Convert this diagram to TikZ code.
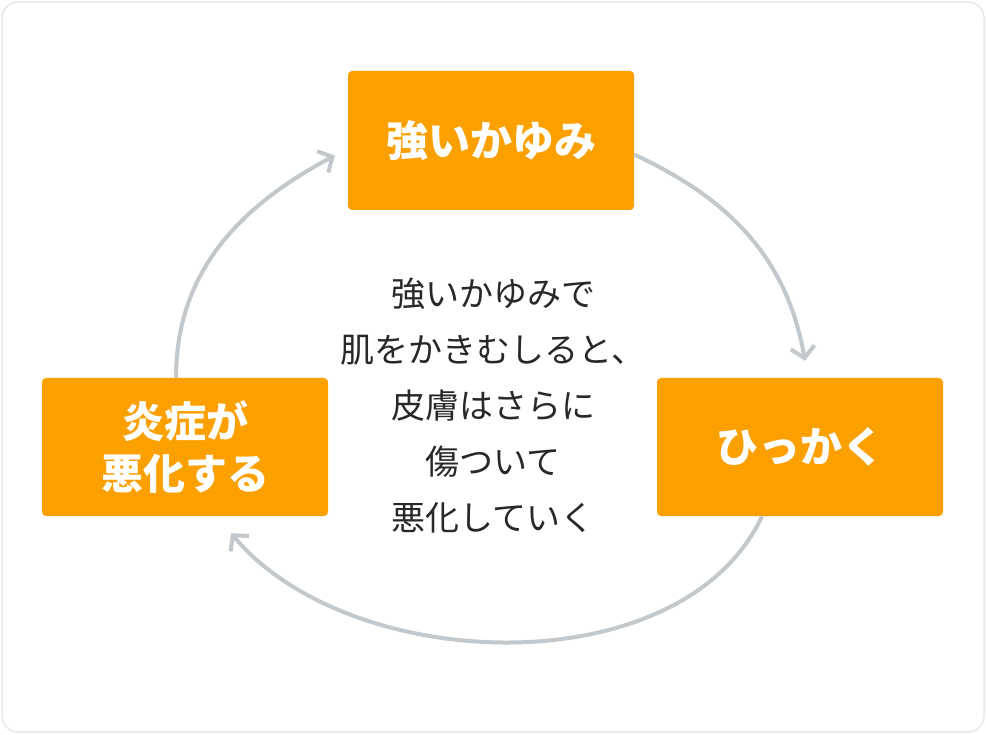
\documentclass[tikz,border=0pt]{standalone}
\usepackage{fontspec}
\newfontfamily\jp{Noto Sans CJK JP}
\usetikzlibrary{arrows.meta}
\definecolor{boxorange}{RGB}{252,160,0}
\definecolor{arcgray}{RGB}{195,200,205}
\definecolor{framegray}{RGB}{232,232,232}
\definecolor{textdark}{RGB}{40,40,40}
\tikzset{
  stagebox/.style={fill=boxorange, rounded corners=4pt, minimum width=286pt, minimum height=138pt,
    inner sep=0pt, text=white, font=\jp\bfseries\fontsize{42}{52}\selectfont, align=center},
  cyclearc/.style={draw=arcgray, line width=4pt,
    -{Straight Barb[length=11pt,width=24pt,line width=4pt]}},
}
\begin{document}
\begin{tikzpicture}[x=1pt,y=-1pt]
\useasboundingbox (0,0) rectangle (986,735);
\draw[framegray, line width=1.5pt, rounded corners=16pt, fill=white] (2,2) rectangle (984,732);

\node[stagebox, minimum height=139pt] (top) at (491,140.5) {強いかゆみ};
\node[stagebox] (right) at (800,447) {ひっかく};
\node[stagebox] (left) at (185,447) {炎症が\\悪化する};

\node[text=textdark, font=\jp\fontsize{34}{56}\selectfont, align=center, inner sep=0pt] (mid) at (493,405)
  {強いかゆみで\\肌をかきむしると、\\皮膚はさらに\\傷ついて\\悪化していく};

\coordinate (rtip) at ([xshift=5pt,yshift=17pt]right.north);
\coordinate (ltip) at ([xshift=46pt,yshift=-17pt]left.south);
\coordinate (ttip) at ([xshift=-13pt,yshift=-15pt]top.west);

\draw[cyclearc] ([yshift=-14pt]top.east) to[out=-25,in=100] (rtip);
\draw[cyclearc] ([xshift=-38pt]right.south) to[out=-115,in=-50,looseness=0.9] (ltip);
\draw[cyclearc] ([xshift=-9pt]left.north) to[out=90,in=-152] (ttip);
\end{tikzpicture}
\end{document}
